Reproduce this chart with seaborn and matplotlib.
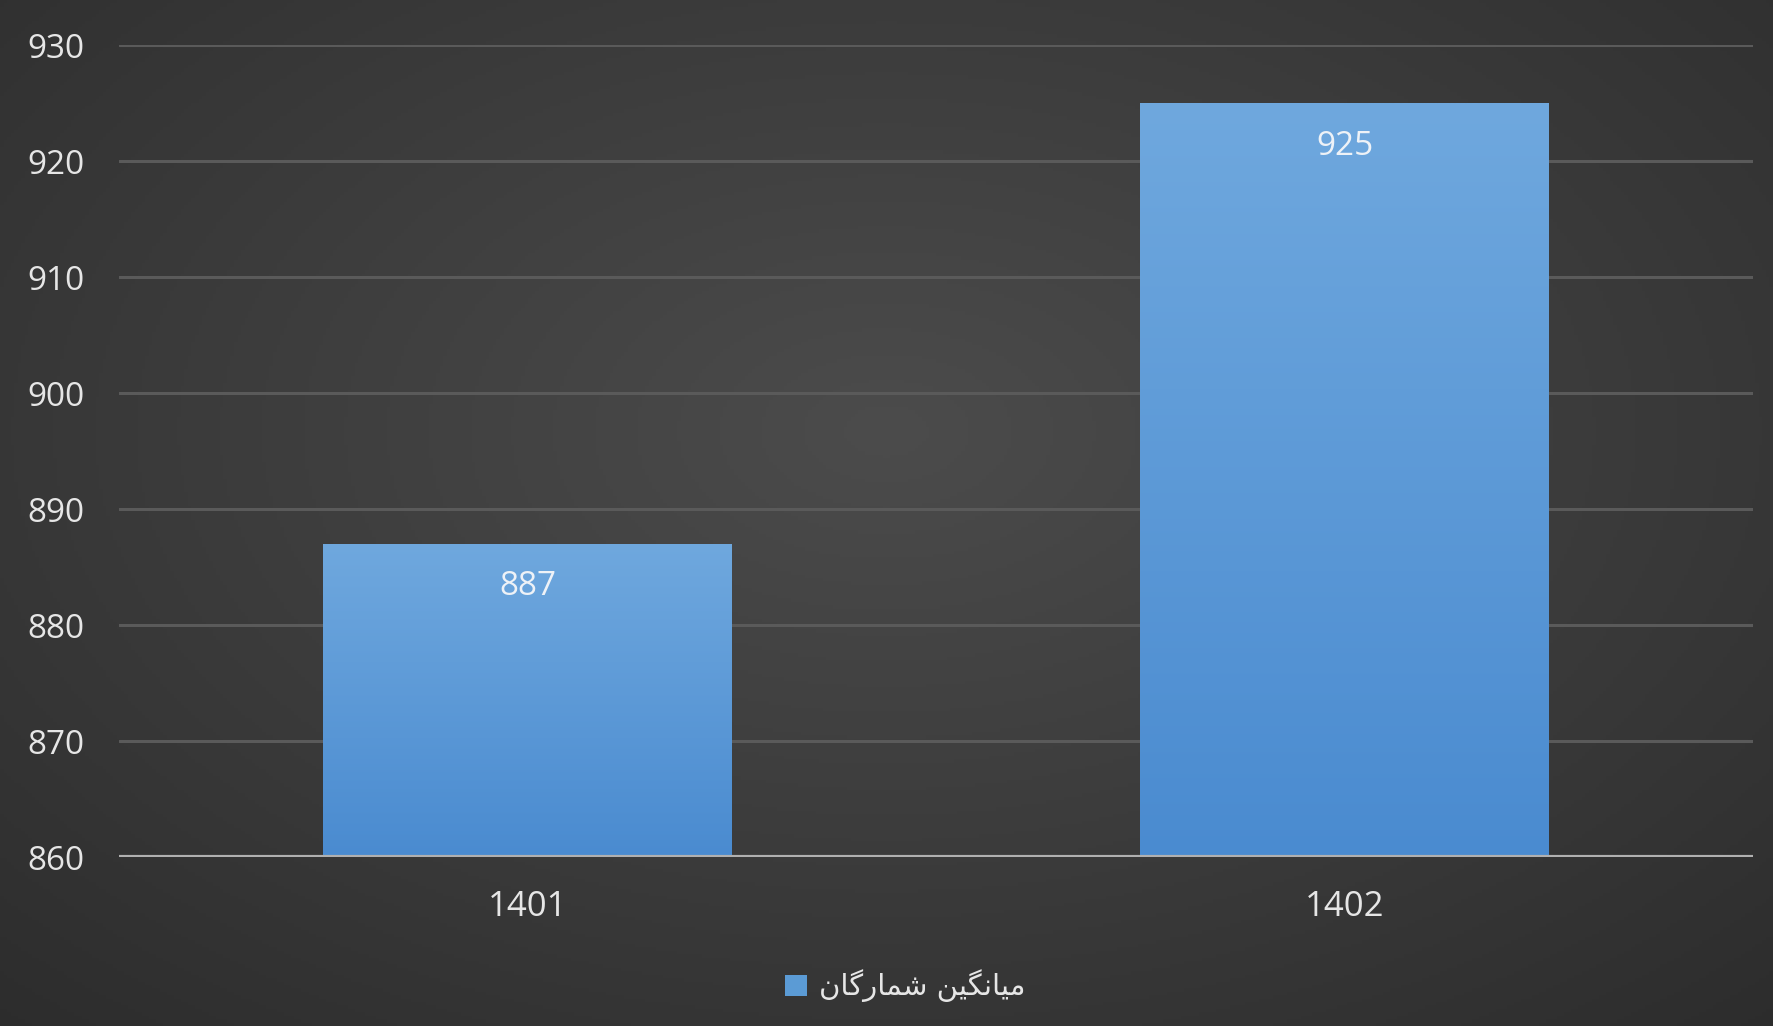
import numpy as np
import pandas as pd
import matplotlib
matplotlib.use("Agg")
import matplotlib.pyplot as plt
import seaborn as sns

# ---- data ----
categories = ["1401", "1402"]
values = [887, 925]
series_name = "میانگین شمارگان"
y_ticks = [860, 870, 880, 890, 900, 910, 920, 930]


def shape_persian(text):
    # manual contextual shaping for this label (matplotlib has no Arabic shaping)
    forms = {
        'م': ('\uFEE1', '\uFEE3', '\uFEE4', '\uFEE2'),
        'ی': ('\uFBFC', '\uFBFE', '\uFBFF', '\uFBFD'),
        'ا': ('\uFE8D', None, None, '\uFE8E'),
        'ن': ('\uFEE5', '\uFEE7', '\uFEE8', '\uFEE6'),
        'گ': ('\uFB92', '\uFB94', '\uFB95', '\uFB93'),
        'ش': ('\uFEB5', '\uFEB7', '\uFEB8', '\uFEB6'),
        'ر': ('\uFEAD', None, None, '\uFEAE'),
    }
    out_words = []
    for word in text.split(' '):
        res = []
        for i, ch in enumerate(word):
            f = forms.get(ch)
            if f is None:
                res.append(ch)
                continue
            prev = word[i - 1] if i > 0 else None
            nxt = word[i + 1] if i + 1 < len(word) else None
            prev_joins = prev is not None and prev in forms and forms[prev][1] is not None
            next_ok = nxt is not None and nxt in forms and f[1] is not None
            if prev_joins and next_ok:
                res.append(f[2])
            elif prev_joins:
                res.append(f[3])
            elif next_ok:
                res.append(f[1])
            else:
                res.append(f[0])
        out_words.append(''.join(res))
    return ' '.join(out_words)[::-1]


sns.set_theme(style="dark")
plt.rcParams['font.family'] = ['Open Sans', 'DejaVu Sans']

W, H = 1773, 1026
fig = plt.figure(figsize=(W / 100, H / 100), dpi=100)

# background radial gradient
bg = fig.add_axes([0, 0, 1, 1], zorder=-10)
yy, xx = np.mgrid[0:1:300j, 0:1:500j]
r = np.sqrt(((xx - 0.5) / 0.8) ** 2 + ((yy - 0.42) / 0.85) ** 2)
r = np.clip(r, 0, 1)
c_in = np.array([0x4c, 0x4c, 0x4c]) / 255
c_out = np.array([0x2a, 0x2a, 0x2a]) / 255
img = c_in[None, None, :] * (1 - r[..., None]) + c_out[None, None, :] * r[..., None]
bg.imshow(img, aspect='auto', extent=[0, 1, 0, 1], origin='upper')
bg.axis('off')

ax = fig.add_axes([119 / W, 169 / H, (1753 - 119) / W, (981 - 169) / H])
ax.patch.set_alpha(0)

df = pd.DataFrame({"year": categories, "value": values, "series": series_name})
sns.barplot(data=df, x="year", y="value", hue="series", palette=["#5b9bd5"],
            width=0.5, ax=ax, legend=False, zorder=3)

ax.set_ylim(860, 930)
ax.set_xlim(-0.5, 1.5)
ax.set_yticks(y_ticks)
ax.set_yticklabels([str(t) for t in y_ticks])

# gradient fill of bars
grad = np.linspace(0, 1, 256)[:, None]
cmap = matplotlib.colors.LinearSegmentedColormap.from_list("bar", ["#6fa8de", "#4a8bd0"])
for p in ax.patches:
    x0, y0 = p.get_x(), p.get_y()
    w, h = p.get_width(), p.get_height()
    im = ax.imshow(grad, cmap=cmap, aspect='auto', extent=[x0, x0 + w, 860, y0 + h],
                   origin='upper', zorder=3.5)
    im.set_clip_path(p)
    p.set_edgecolor('none')

# value labels
for i, v in enumerate(values):
    ax.annotate(str(v), xy=(i, v), xytext=(0, -31), textcoords='offset points',
                ha='center', va='center', fontsize=24, color='#eef2f7', zorder=5)

# grid
for t in y_ticks[1:]:
    ax.axhline(t, color='#5a5a5a', lw=2.2, zorder=1)
ax.axhline(860, color='#b0b0b0', lw=3, zorder=6)

for s in ax.spines.values():
    s.set_visible(False)
ax.tick_params(axis='both', length=0, colors='#e6e6e6', labelsize=24)
ax.tick_params(axis='y', pad=25)
ax.tick_params(axis='x', pad=24, labelsize=25)
ax.set_xlabel("")
ax.set_ylabel("")
ax.grid(False)

# legend
from matplotlib.patches import Patch
handle = Patch(facecolor="#5b9bd5", edgecolor='none')
leg = fig.legend([handle], [shape_persian(series_name)], loc='center',
                 bbox_to_anchor=(905 / W, 1 - 986 / H), frameon=False,
                 handlelength=0.75, handleheight=0.75, handletextpad=0.4,
                 prop={'family': 'DejaVu Sans', 'size': 21})
for t in leg.get_texts():
    t.set_color('#e6e6e6')

fig.savefig("out.png", dpi=100)
